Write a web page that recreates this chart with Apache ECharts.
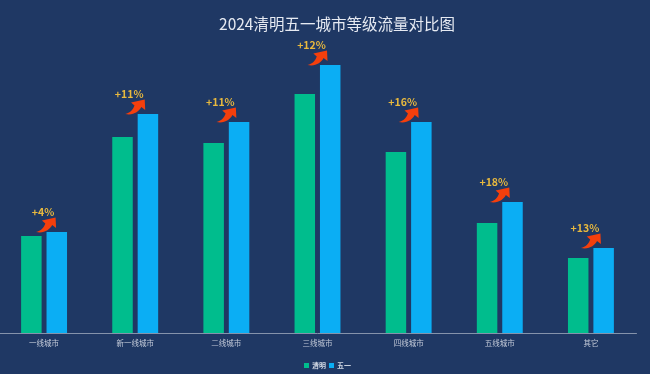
<!DOCTYPE html>
<html>
<head>
<meta charset="utf-8">
<style>
html, body { margin: 0; padding: 0; background: #1f3864; overflow: hidden; }
#chart { width: 652px; height: 374px; margin-left: -2px; }
</style>
<script src="https://cdn.jsdelivr.net/npm/echarts@6/dist/echarts.min.js"></script>
</head>
<body>
<div id="chart"></div>
<script>
var cities = ['一线城市', '新一线城市', '二线城市', '三线城市', '四线城市', '五线城市', '其它'];
var qingming = [97, 196, 190, 239, 181, 110, 75];
var wuyi = [101, 219, 211, 268, 211, 131, 85];
var growth = ['+4%', '+11%', '+11%', '+12%', '+16%', '+18%', '+13%'];

var FONT = '"Noto Sans CJK SC", sans-serif';
var arrowPath = 'path://M0 14.5C5 13.5 8 10 9.5 6L6 3L20 0L20.5 10.5L16.5 7.5C14 12 8 16.5 0 14.5Z';

// the first arrow and label sit a little further right than the others
var arrowData = wuyi.map(function (v, i) {
    if (i !== 0) return v;
    return { value: v, symbolOffset: [2, -7], label: { offset: [-3, 0] } };
});

var chart = echarts.init(document.getElementById('chart'), null, { renderer: 'canvas' });
chart.setOption({
    backgroundColor: '#1f3864',
    animation: false,
    textStyle: { fontFamily: FONT },
    title: {
        text: '2024清明五一城市等级流量对比图',
        left: 334, top: 11, textAlign: 'center',
        textStyle: { color: '#e6eaf2', fontSize: 15.5, fontWeight: 'normal', fontFamily: FONT }
    },
    legend: {
        data: [{ name: '清明', icon: 'rect' }, { name: '五一', icon: 'rect' }],
        left: 301, top: 357,
        itemWidth: 5, itemHeight: 5, itemGap: 3,
        textStyle: { color: '#d5dbe6', fontSize: 7, fontWeight: 'bold', padding: [0, 0, 0, -2] }
    },
    grid: { left: 0.5, width: 638, top: 33, height: 300 },
    xAxis: {
        type: 'category',
        data: cities,
        axisTick: { show: false },
        axisLine: { lineStyle: { color: '#8593ab', width: 1 } },
        axisLabel: { color: '#c3cad8', fontSize: 7.5, margin: 6, interval: 0 }
    },
    yAxis: { type: 'value', min: 0, max: 300, show: false },
    series: [
        { name: '清明', type: 'bar', data: qingming, barWidth: 20.5, barGap: '24%',
          itemStyle: { color: '#00bd8d' } },
        { name: '五一', type: 'bar', data: wuyi, barWidth: 20.5,
          itemStyle: { color: '#0baef4' } },
        { name: '增幅', type: 'scatter', data: arrowData,
          symbol: arrowPath, symbolSize: [20, 15], symbolOffset: [0, -7],
          itemStyle: { color: '#f43f0c', opacity: 1 },
          label: {
              show: true, position: 'top', distance: 0, offset: [-6, 0],
              color: '#e8b93e', fontSize: 10.5, fontWeight: 'bold',
              formatter: function (p) { return growth[p.dataIndex]; }
          },
          z: 5 }
    ]
});
</script>
</body>
</html>
